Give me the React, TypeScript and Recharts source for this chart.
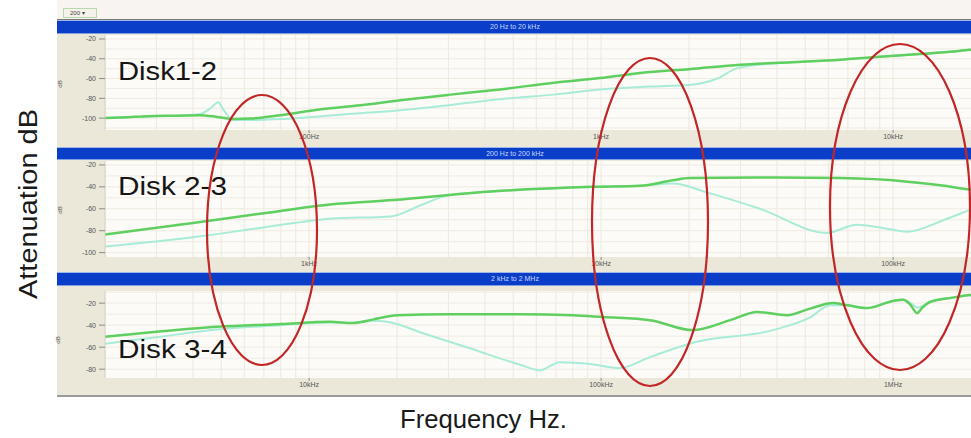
import React from 'react';
import { LineChart, Line, XAxis, YAxis, CartesianGrid, ReferenceLine } from 'recharts';

// ---- Panel 1: Disk1-2, 20 Hz to 20 kHz ----
const p1Dark: number[][] = [
  [20, -100], [24, -99], [28, -98], [35, -97.5], [42, -97], [48, -98.5], [55, -101],
  [63, -100.5], [80, -97], [110, -91], [150, -87], [205, -82], [300, -76.5], [450, -71], [700, -64],
  [990, -59.5], [1470, -53.5], [2000, -50.5], [3000, -46], [4500, -43.5], [6600, -41], [8500, -38.5],
  [12000, -35.5], [15000, -33.5], [18300, -31], [20000, -30],
];
const p1Light: number[][] = [
  [20, -100], [24, -99], [28, -98], [35, -97.5], [42, -96], [46, -90], [48.8, -84], [51, -92], [55, -102],
  [63, -102], [80, -101], [110, -98], [150, -95], [205, -92], [300, -87], [450, -81], [700, -76],
  [990, -71], [1470, -68], [2000, -66.5], [2500, -60], [2900, -50], [3500, -46], [4500, -43.5],
  [6600, -41], [8500, -38.5], [12000, -35.5], [15000, -33.5], [18300, -31], [20000, -30],
];

// ---- Panel 2: Disk 2-3, 200 Hz to 200 kHz ----
const p2Dark: number[][] = [
  [200, -83.5], [400, -73], [700, -64], [1180, -56], [1940, -52], [4070, -44.5], [9400, -40],
  [13600, -39], [17600, -34], [20100, -32], [40000, -31.5], [65800, -32], [110000, -35],
  [150000, -39], [183000, -42.5], [200000, -43.5],
];
const p2Light: number[][] = [
  [200, -94.5], [400, -86], [700, -77], [1180, -69], [1900, -67], [2400, -57], [2970, -48],
  [4070, -44.5], [9400, -40], [13600, -39], [17600, -37], [23000, -45], [35000, -60], [59400, -82],
  [75200, -74.5], [90000, -77], [111600, -81], [150000, -70], [183300, -61], [200000, -57],
];

// ---- Panel 3: Disk 3-4, 2 kHz to 2 MHz ----
const p3Dark: number[][] = [
  [2000, -50.5], [3000, -46], [4840, -41.5], [8000, -39], [11800, -37], [14100, -38], [16500, -35],
  [20000, -31], [30000, -30], [52800, -30], [80000, -31], [101500, -32.7], [147000, -35.5],
  [206000, -44.5], [280000, -35], [342000, -28], [433000, -31], [520000, -25], [622000, -20],
  [700000, -22], [814000, -24.5], [1000000, -18], [1082000, -17], [1150000, -22], [1208000, -29],
  [1260000, -24], [1337000, -19], [1600000, -15], [1833000, -12.7], [2000000, -12],
];
const p3Light: number[][] = [
  [2000, -57], [3000, -51], [4840, -44], [8000, -40], [11800, -37.5], [14100, -38], [16500, -36],
  [18500, -37], [25000, -48], [35500, -61], [52800, -76], [61750, -81], [72300, -73.6], [90000, -75],
  [116000, -79], [147000, -69], [206000, -56], [388000, -44.5], [520000, -33], [608000, -22],
  [700000, -22], [814000, -24.5], [1000000, -18], [1082000, -17], [1150000, -20], [1208000, -24],
  [1337000, -19], [1833000, -13], [2000000, -12],
];

const panelTitles = ['20 Hz to 20 kHz', '200 Hz to 200 kHz', '2 kHz to 2 MHz'];
const diskLabels = ['Disk1-2', 'Disk 2-3', 'Disk 3-4'];
const xTicks1 = [100, 1000, 10000];
const xTicks2 = [1000, 10000, 100000];
const xTicks3 = [10000, 100000, 1000000];
const xTickLabels: Record<number, string> = {
  100: '100Hz', 1000: '1kHz', 10000: '10kHz', 100000: '100kHz', 1000000: '1MHz',
};
const yTicks12 = [-20, -40, -60, -80, -100];
const yTicks3 = [-20, -40, -60, -80];

const toPts = (a: number[][]) => a.map(([f, db]) => ({ f, db }));

const FONT = '"Liberation Sans", Arial, sans-serif';

function gridX(f0: number): number[] {
  const out: number[] = [];
  for (let d = 0; d < 3; d++) {
    const base = f0 * Math.pow(10, d);
    const dec = Math.pow(10, Math.floor(Math.log10(base)));
    for (let m = 1; m <= 9; m++) out.push(dec * m);
    out.push(dec * 10);
  }
  return Array.from(new Set(out)).filter((v) => v >= f0 && v <= f0 * 1000);
}

function gridY(lo: number, hi: number): number[] {
  const out: number[] = [];
  for (let v = Math.ceil(lo / 10) * 10; v <= hi; v += 10) out.push(v);
  return out;
}

type PanelProps = {
  top: number;
  plotH: number;
  axisH: number;
  f0: number;
  yDomain: [number, number];
  yTicks: number[];
  xTicks: number[];
  dark: number[][];
  light: number[][];
};

function Panel({ top, plotH, axisH, f0, yDomain, yTicks, xTicks, dark, light }: PanelProps) {
  const gx = gridX(f0);
  const gy = gridY(yDomain[0], yDomain[1]);
  return (
    <div style={{ position: 'absolute', left: 57, top }}>
      <LineChart width={924} height={plotH + axisH} margin={{ top: 0, right: 0, bottom: 0, left: 0 }}>
        <CartesianGrid fill="#fcfbf7" stroke="none" vertical={false} horizontal={false} />
        {gx.map((v) => (
          <ReferenceLine key={'x' + v} x={v} stroke="#ece8de" strokeWidth={1} />
        ))}
        {gy.map((v) => (
          <ReferenceLine key={'y' + v} y={v} stroke="#efebe2" strokeWidth={1} />
        ))}
        <XAxis
          dataKey="f"
          type="number"
          scale="log"
          domain={[f0, f0 * 1000]}
          allowDataOverflow
          ticks={xTicks}
          interval={0}
          tickFormatter={(v: number) => xTickLabels[v] ?? String(v)}
          height={axisH}
          axisLine={false}
          tickLine={{ stroke: '#8a8a8a' }}
          tickSize={3}
          tickMargin={1}
          tick={{ fontSize: 7, fill: '#555', fontFamily: FONT }}
        />
        <YAxis
          type="number"
          domain={yDomain}
          allowDataOverflow
          ticks={yTicks}
          interval={0}
          width={48}
          axisLine={{ stroke: '#d6d2c4' }}
          tickLine={{ stroke: '#8a8a8a' }}
          tickSize={6}
          tickMargin={3}
          tick={{ fontSize: 7, fill: '#555', fontFamily: FONT }}
        />
        <Line data={toPts(light)} dataKey="db" type="monotone" stroke="#a8ecd8" strokeWidth={2} dot={false} isAnimationActive={false} />
        <Line data={toPts(dark)} dataKey="db" type="monotone" stroke="#5fcf60" strokeWidth={2.5} dot={false} isAnimationActive={false} />
      </LineChart>
    </div>
  );
}

function Bar({ top, height, title }: { top: number; height: number; title: string }) {
  return (
    <div
      style={{
        position: 'absolute', left: 57, right: 0, top, height,
        background: '#0a3ec8', borderTop: '1px solid #9fb6ea', borderBottom: '1px solid #7f9fe0',
        boxSizing: 'border-box', color: '#c9d8ff', fontSize: 7, fontFamily: FONT,
        lineHeight: `${height - 2}px`,
      }}
    >
      <span style={{ position: 'absolute', left: 515 - 57, transform: 'translateX(-50%)', whiteSpace: 'nowrap' }}>{title}</span>
    </div>
  );
}

export default function App() {
  return (
    <div style={{ position: 'fixed', left: 0, top: 0, width: 971, height: 438, background: '#ffffff', overflow: 'hidden', fontFamily: FONT }}>
      <div style={{ position: 'absolute', left: 57, right: 0, top: 0, height: 20, background: '#f7f4f2', borderBottom: '1px solid #7a7a7a', boxSizing: 'border-box' }} />
      <div style={{ position: 'absolute', left: 63, top: 8, width: 34, height: 10, border: '1px solid #b8d8b0', background: '#f4f2ea', boxSizing: 'border-box', fontSize: 6, color: '#444', lineHeight: '8px', paddingLeft: 6 }}>200 ▾</div>

      <div style={{ position: 'absolute', left: 57, right: 0, top: 33, height: 115, background: '#ebe8da' }} />
      <div style={{ position: 'absolute', left: 57, right: 0, top: 159, height: 113, background: '#ebe8da' }} />
      <div style={{ position: 'absolute', left: 57, right: 0, top: 285, height: 110, background: '#ebe8da', borderBottom: '2px solid #9a9a9a' }} />

      <Bar top={20} height={14} title={panelTitles[0]} />
      <Bar top={147} height={13} title={panelTitles[1]} />
      <Bar top={272} height={14} title={panelTitles[2]} />

      <Panel top={35} plotH={95} axisH={17} f0={20} yDomain={[-112, -16]} yTicks={yTicks12} xTicks={xTicks1} dark={p1Dark} light={p1Light} />
      <Panel top={161} plotH={96} axisH={14} f0={200} yDomain={[-104, -16.4]} yTicks={yTicks12} xTicks={xTicks2} dark={p2Dark} light={p2Light} />
      <Panel top={291} plotH={87} axisH={16} f0={2000} yDomain={[-88, -9]} yTicks={yTicks3} xTicks={xTicks3} dark={p3Dark} light={p3Light} />

      <svg width={971} height={438} style={{ position: 'absolute', left: 0, top: 0, pointerEvents: 'none' }}>
        <text x={37} y={204} transform="rotate(-90 37 204)" textAnchor="middle" fontSize={25} fill="#1a1a1a" fontFamily={FONT} textLength={190} lengthAdjust="spacingAndGlyphs">Attenuation dB</text>
        <text x={400} y={428} fontSize={25} fill="#1a1a1a" fontFamily={FONT} textLength={167} lengthAdjust="spacingAndGlyphs">Frequency Hz.</text>

        <text x={118} y={80} fontSize={26} fill="#151515" fontFamily={FONT} textLength={99} lengthAdjust="spacingAndGlyphs">{diskLabels[0]}</text>
        <text x={118} y={195} fontSize={26} fill="#151515" fontFamily={FONT} textLength={109} lengthAdjust="spacingAndGlyphs">{diskLabels[1]}</text>
        <text x={118} y={358} fontSize={26} fill="#151515" fontFamily={FONT} textLength={109} lengthAdjust="spacingAndGlyphs">{diskLabels[2]}</text>

        <text x={62} y={84} transform="rotate(-90 62 84)" textAnchor="middle" fontSize={6} fill="#555" fontFamily={FONT}>dB</text>
        <text x={62} y={210} transform="rotate(-90 62 210)" textAnchor="middle" fontSize={6} fill="#555" fontFamily={FONT}>dB</text>
        <text x={60} y={340} transform="rotate(-90 60 340)" textAnchor="middle" fontSize={6} fill="#555" fontFamily={FONT}>dB</text>

        <ellipse cx={262} cy={230} rx={55} ry={135} fill="none" stroke="#c22626" strokeWidth={2.2} />
        <ellipse cx={650} cy={222} rx={58} ry={164} fill="none" stroke="#c22626" strokeWidth={2.2} />
        <ellipse cx={900} cy={207} rx={70} ry={163} fill="none" stroke="#c22626" strokeWidth={2.2} />
      </svg>
    </div>
  );
}
